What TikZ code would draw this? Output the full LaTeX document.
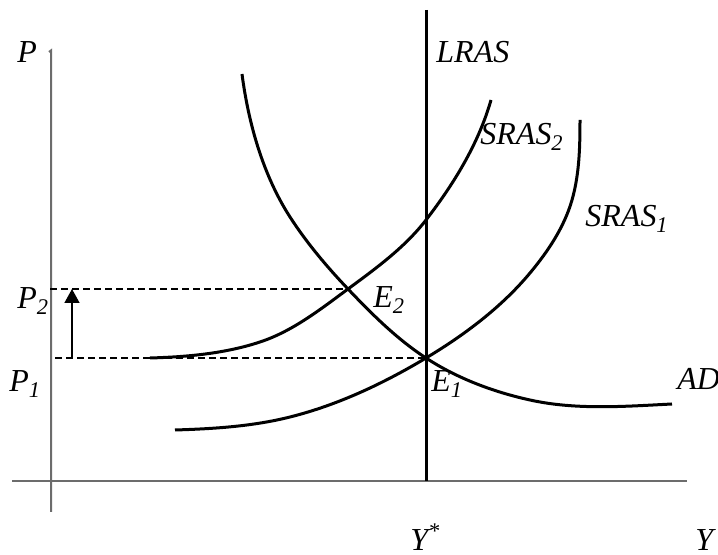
\documentclass[tikz,border=0pt]{standalone}
\usepackage{fontspec}
\setmainfont{Liberation Serif}
\usetikzlibrary{arrows.meta}

\begin{document}
\begin{tikzpicture}[
  x=0.5pt, y=-0.5pt,
  >={Triangle[length=7pt, width=7.5pt]},
  % curves of the model
  curve/.style={line width=1.5pt},
  axis/.style={line width=1pt, draw=gray!85!black},
  guide/.style={line width=0.75pt, dash pattern=on 3.5pt off 2pt},
  lbl/.style={font=\fontsize{16}{19}\selectfont\itshape, inner sep=0pt, anchor=base west},
]

% Canvas: pixel coordinates, y pointing down
\useasboundingbox (0,0) rectangle (718,555);

% --- Axes ---
\draw[axis] (49,52) -- (51,50.5) -- (51,512);
\draw[axis] (12,481) -- (687,481);

% --- Equilibrium points ---
\coordinate (E1) at (426,358);
\coordinate (E2) at (348,289);

% --- LRAS ---
\draw[curve] (426,10) -- (426,481);

% --- AD ---
\draw[curve] (242,74)
  .. controls (248.5,123.6) and (263,175) .. (290,217)
  .. controls (306.7,242.9) and (326.8,266.7) .. (E2)
  .. controls (371.9,314.1) and (396.9,339.1) .. (E1)
  .. controls (457.3,378.4) and (493.5,392) .. (530,400)
  .. controls (576.2,410.2) and (624.8,406.4) .. (672,404);

% --- SRAS2 ---
\draw[curve] (150,358)
  .. controls (187.1,356.9) and (224.8,353.6) .. (260,342)
  .. controls (292.5,331.3) and (320.5,309.3) .. (E2)
  .. controls (375.9,268.4) and (404.8,247.5) .. (426,220)
  .. controls (453.8,183.9) and (478.5,143.8) .. (491,100);

% --- SRAS1 ---
\draw[curve] (175,430)
  .. controls (213.6,428.8) and (252.6,426.4) .. (290,417)
  .. controls (337.9,405) and (383.6,383.4) .. (E1)
  .. controls (464.4,335) and (501.3,307.4) .. (530,273)
  .. controls (548,251.4) and (564.3,227) .. (572,200)
  .. controls (579.4,174.2) and (580,146.8) .. (580,120);

% --- Price guides ---
\coordinate (p2axis) at (50,289);
\coordinate (p1axis) at (55,358);
\draw[guide] (p2axis) -- (E2);
\draw[guide] (p1axis) -- (E1);

% --- Price rise ---
\coordinate (riseA) at (72,358);
\coordinate (riseB) at (72,289);
\draw[->, line width=0.75pt] (riseA) -- (riseB);

% --- Labels ---
\node[lbl] (labP)     at (17,63)   {P};
\node[lbl] (labLRAS)  at (436,63)  {LRAS};
\node[lbl] (labSRAS2) at (480,145) {SRAS\textsubscript{2}};
\node[lbl] (labSRAS1) at (585,227) {SRAS\textsubscript{1}};
\node[lbl] (labP2)    at (17,309)  {P\textsubscript{2}};
\node[lbl] (labP1)    at (9,392)   {P\textsubscript{1}};
\node[lbl] (labE2)    at (373,308) {E\textsubscript{2}};
\node[lbl] (labE1)    at (431,392) {E\textsubscript{1}};
\node[lbl] (labAD)    at (677,390) {AD};
\node[lbl] (labYstar) at (410,551) {Y\textsuperscript{*}};
\node[lbl] (labY)     at (695,551) {Y};

\end{tikzpicture}
\end{document}
